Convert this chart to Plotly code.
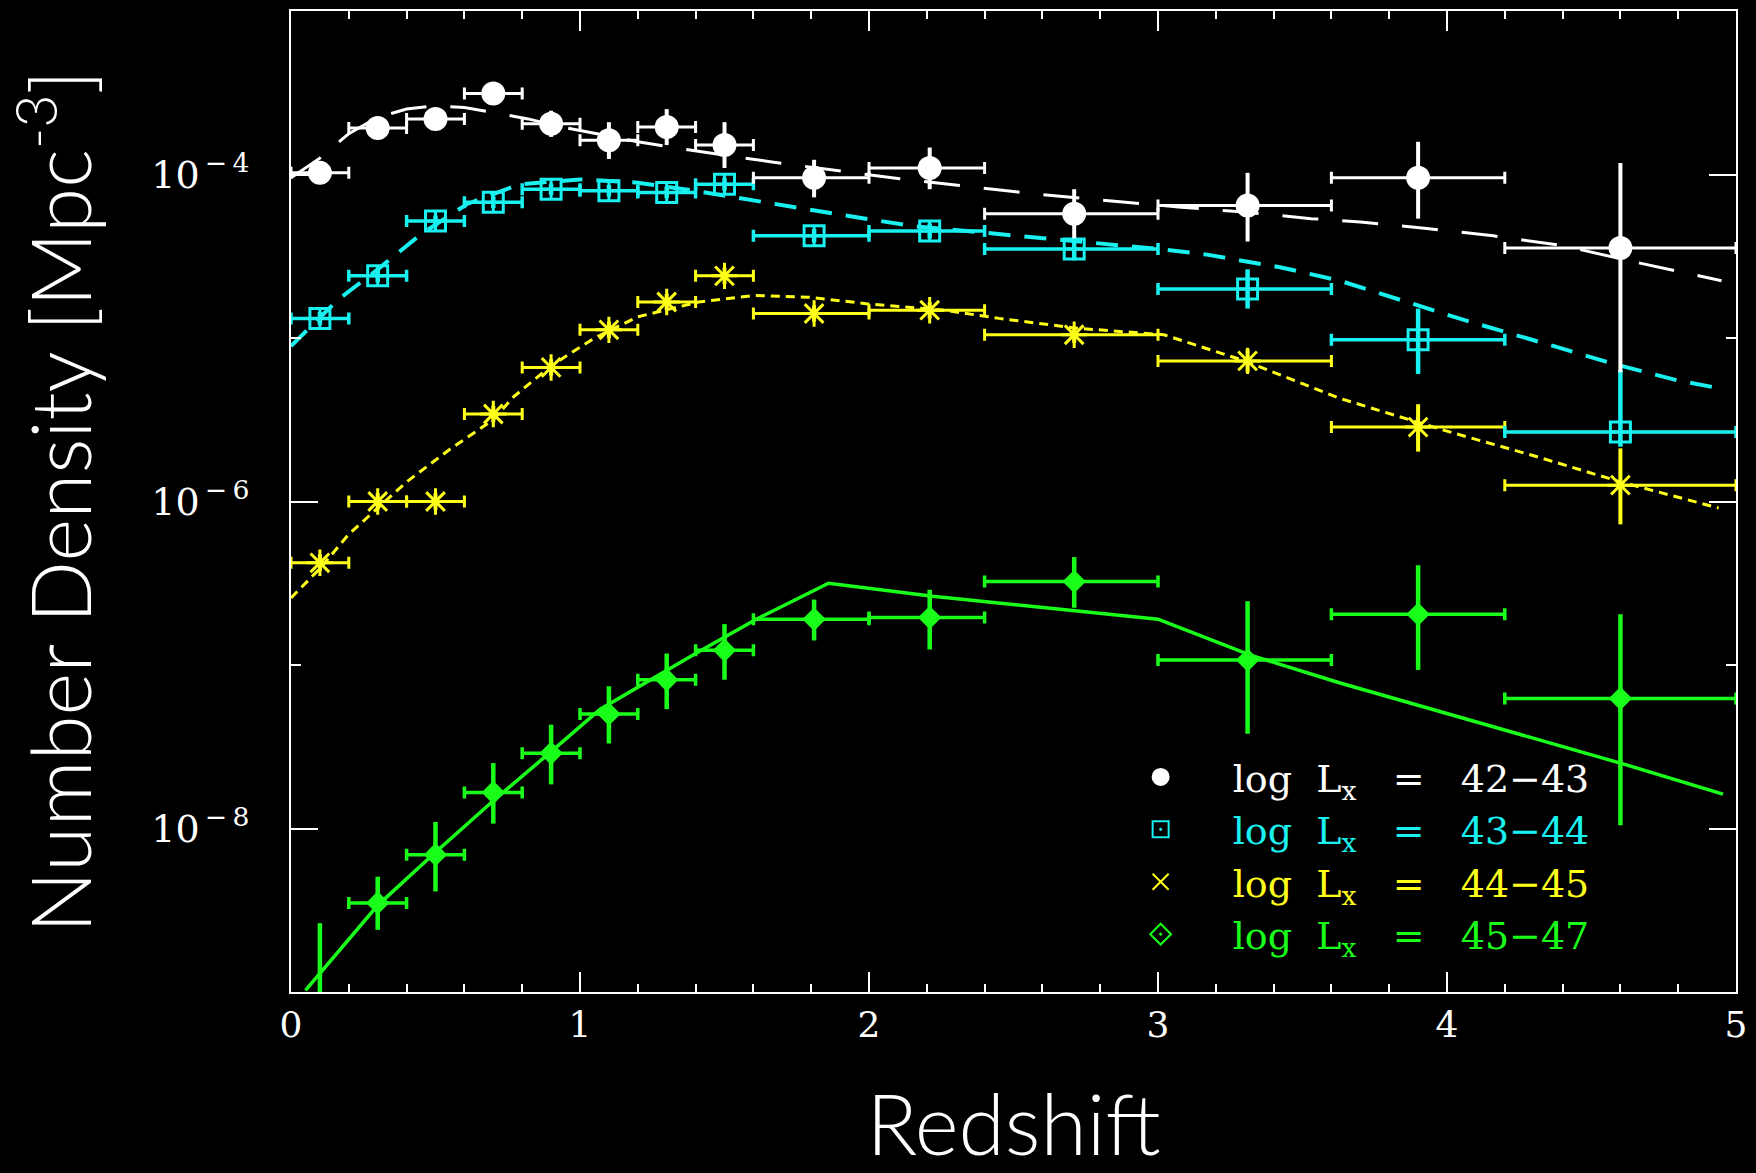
import numpy as np
import plotly.graph_objects as go

# ---------------- data ----------------
z_pts = [0.1, 0.3, 0.5, 0.7, 0.9, 1.1, 1.3, 1.5, 1.81, 2.21, 2.71, 3.31, 3.9, 4.6]
z_bin_lo = [0.0, 0.2, 0.4, 0.6, 0.8, 1.0, 1.2, 1.4, 1.6, 2.0, 2.4, 3.0, 3.6, 4.2]
z_bin_hi = [0.2, 0.4, 0.6, 0.8, 1.0, 1.2, 1.4, 1.6, 2.0, 2.4, 3.0, 3.6, 4.2, 5.0]

# log10 number density and errors in dex
white_logy = [-3.99, -3.715, -3.66, -3.505, -3.69, -3.79, -3.71, -3.82, -4.02, -3.96, -4.24, -4.19, -4.02, -4.45]
white_up = [0.05, 0.06, 0.065, 0.06, 0.08, 0.11, 0.11, 0.14, 0.11, 0.125, 0.15, 0.20, 0.22, 0.52]
white_dn = [0.05, 0.06, 0.065, 0.06, 0.08, 0.115, 0.11, 0.14, 0.12, 0.13, 0.15, 0.22, 0.25, 0.76]

cyan_logy = [-4.88, -4.62, -4.285, -4.17, -4.09, -4.10, -4.11, -4.06, -4.375, -4.345, -4.455, -4.70, -5.01, -5.575]
cyan_up = [0.04, 0.04, 0.035, 0.035, 0.035, 0.035, 0.035, 0.04, 0.04, 0.045, 0.07, 0.12, 0.19, 0.38]
cyan_dn = [0.04, 0.04, 0.035, 0.035, 0.035, 0.035, 0.035, 0.04, 0.04, 0.045, 0.07, 0.12, 0.21, 0.09]

yellow_logy = [-6.375, -6.0, -6.0, -5.465, -5.18, -4.95, -4.78, -4.62, -4.85, -4.83, -4.98, -5.14, -5.545, -5.90]
yellow_up = [0.05, 0.05, 0.05, 0.05, 0.05, 0.05, 0.05, 0.05, 0.05, 0.05, 0.05, 0.07, 0.14, 0.225]
yellow_dn = [0.05, 0.05, 0.05, 0.05, 0.05, 0.05, 0.05, 0.05, 0.05, 0.05, 0.05, 0.07, 0.15, 0.24]

green_logy = [-9.1, -8.455, -8.16, -7.78, -7.54, -7.30, -7.09, -6.91, -6.72, -6.71, -6.49, -6.97, -6.69, -7.205]
green_up = [0.52, 0.16, 0.20, 0.18, 0.175, 0.17, 0.16, 0.16, 0.12, 0.17, 0.15, 0.36, 0.30, 0.515]
green_dn = [0.50, 0.165, 0.225, 0.19, 0.19, 0.18, 0.18, 0.18, 0.13, 0.195, 0.16, 0.45, 0.34, 0.775]

# model curves (z, log10 density)
white_model_z = [0, 0.1, 0.2, 0.3, 0.4, 0.5, 0.6, 0.7, 0.82, 0.94, 1.2, 1.38, 1.67, 2.1, 2.58, 2.83, 3.08,
                 3.3, 3.53, 3.7, 3.93, 4.16, 4.4, 4.65, 4.95]
white_model_logy = [-4.02, -3.90, -3.75, -3.65, -3.60, -3.58, -3.59, -3.62, -3.66, -3.71, -3.80, -3.85, -3.925,
                    -4.025, -4.12, -4.16, -4.20, -4.23, -4.27, -4.29, -4.33, -4.375, -4.435, -4.535, -4.65]

cyan_model_z = [0, 0.16, 0.3, 0.45, 0.61, 0.79, 1.0, 1.2, 1.4, 1.63, 1.88, 2.15, 2.33, 2.58, 2.85, 3.0, 3.17,
                3.43, 3.63, 3.83, 4.05, 4.37, 4.58, 4.8, 4.95]
cyan_model_logy = [-5.05, -4.77, -4.58, -4.365, -4.18, -4.06, -4.03, -4.05, -4.10, -4.17, -4.24, -4.315, -4.345,
                   -4.39, -4.435, -4.455, -4.49, -4.57, -4.65, -4.76, -4.885, -5.05, -5.16, -5.26, -5.31]

yellow_model_z = [0, 0.1, 0.2, 0.3, 0.4, 0.55, 0.7, 0.77, 0.9, 1.05, 1.2, 1.41, 1.6, 1.79, 1.99, 2.26, 2.45,
                  2.72, 3.02, 3.3, 3.63, 4.0, 4.3, 4.6, 4.94]
yellow_model_logy = [-6.59, -6.41, -6.20, -6.04, -5.88, -5.68, -5.50, -5.36, -5.17, -5.00, -4.87, -4.78, -4.74,
                     -4.75, -4.79, -4.83, -4.88, -4.94, -4.98, -5.14, -5.37, -5.57, -5.72, -5.88, -6.04]

green_model_z = [0.05, 0.3, 0.5, 0.7, 0.9, 1.07, 1.4, 1.61, 1.86, 2.22, 3.0, 3.32, 3.63, 4.3, 4.6, 4.955]
green_model_logy = [-8.99, -8.47, -8.145, -7.83, -7.53, -7.27, -6.93, -6.72, -6.50, -6.58, -6.72, -6.94, -7.11,
                    -7.45, -7.60, -7.79]

legend_labels = ["42\u221243", "43\u221244", "44\u221245", "45\u221247"]
x_tick_vals = [0, 1, 2, 3, 4, 5]
y_tick_exps = [-8, -6, -4]
y_minor_exps = [-9, -7, -5, -3]

# ---------------- styles ----------------
WHITE = "#ffffff"
CYAN = "#19f0f0"
YELLOW = "#ffff1a"
GREEN = "#1aff1a"
SERIF = "DejaVu Serif"
SANS = "Lato"

fig = go.Figure()


def add_series(logy, up, dn, color, symbol, msize, mline, model_z, model_logy, dash, lwidth, ebw):
    ly = np.array(logy)
    y = 10 ** ly
    e_up = 10 ** (ly + np.array(up)) - y
    e_dn = y - 10 ** (ly - np.array(dn))
    zp = np.array(z_pts)
    fig.add_trace(go.Scatter(
        x=model_z, y=10 ** np.array(model_logy), mode="lines",
        line=dict(color=color, width=lwidth, dash=dash), showlegend=False, hoverinfo="skip"))
    fig.add_trace(go.Scatter(
        x=zp, y=y, mode="markers", showlegend=False,
        marker=dict(symbol=symbol, size=msize, color=color, line=dict(color=color, width=mline)),
        error_x=dict(type="data", symmetric=False, array=np.array(z_bin_hi) - zp,
                     arrayminus=zp - np.array(z_bin_lo), color=color, thickness=ebw, width=6),
        error_y=dict(type="data", symmetric=False, array=e_up, arrayminus=e_dn,
                     color=color, thickness=ebw + 1, width=0),
    ))


add_series(green_logy, green_up, green_dn, GREEN, "diamond", 18, 0, green_model_z, green_model_logy,
           "solid", 3.5, 3.5)
add_series(yellow_logy, yellow_up, yellow_dn, YELLOW, "asterisk-open", 22, 3, yellow_model_z, yellow_model_logy,
           "9px,6px", 3, 3)
add_series(cyan_logy, cyan_up, cyan_dn, CYAN, "square-cross-open", 20, 3, cyan_model_z, cyan_model_logy,
           "22px,14px", 4, 3.5)
add_series(white_logy, white_up, white_dn, WHITE, "circle", 24, 0, white_model_z, white_model_logy,
           "36px,24px", 3, 3)

# legend entries
leg_colors = [WHITE, CYAN, YELLOW, GREEN]
leg_symbols = ["circle", "square-open-dot", "x-thin-open", "diamond-open-dot"]
for lab, col, sym in zip(legend_labels, leg_colors, leg_symbols):
    name = ("<span style='color:%s'>log\u00a0\u00a0L<sub>x</sub>\u00a0\u00a0\u00a0=\u00a0\u00a0\u00a0%s</span>"
            % (col, lab))
    fig.add_trace(go.Scatter(
        x=[None], y=[None], mode="markers", name=name,
        marker=dict(symbol=sym, size=16, color=col, line=dict(color=col, width=2))))

fig.update_layout(
    width=1756, height=1173,
    paper_bgcolor="black", plot_bgcolor="black",
    margin=dict(l=291, r=17, t=9, b=176),
    showlegend=True,
    legend=dict(x=0.552, y=0.251, xanchor="left", yanchor="top", bgcolor="rgba(0,0,0,0)",
                font=dict(family=SERIF, size=38, color=WHITE), itemwidth=134, tracegroupgap=0),
    xaxis=dict(
        range=[0, 5], tickmode="array", tickvals=x_tick_vals, ticktext=[str(v) for v in x_tick_vals],
        ticks="inside", ticklen=20, tickwidth=2, tickcolor=WHITE,
        minor=dict(dtick=0.2, ticks="inside", ticklen=8, tickwidth=2, tickcolor=WHITE),
        showline=True, linecolor=WHITE, linewidth=2, mirror="allticks",
        showgrid=False, zeroline=False,
        tickfont=dict(family=SERIF, size=36, color=WHITE), ticklabelstandoff=0,
        title=dict(text="\u00a0\u00a0\u00a0Redshift", font=dict(family=SANS, size=84, color=WHITE, weight=300),
                   standoff=60),
    ),
    yaxis=dict(
        type="log", range=[-9, -3], tickmode="array",
        tickvals=[10.0 ** e for e in y_tick_exps],
        ticktext=["10<sup>\u2009\u2212\u2009%d</sup>" % (-e) for e in y_tick_exps],
        ticks="inside", ticklen=27, tickwidth=2, tickcolor=WHITE,
        minor=dict(tickvals=[10.0 ** e for e in y_minor_exps], ticks="inside", ticklen=10, tickwidth=2,
                   tickcolor=WHITE),
        showline=True, linecolor=WHITE, linewidth=2, mirror="allticks",
        showgrid=False, zeroline=False,
        tickfont=dict(family=SERIF, size=38, color=WHITE), ticklabelstandoff=32,
        title=dict(text="Number Density [Mpc<sup>-3</sup>]", font=dict(family=SANS, size=82, color=WHITE, weight=300),
                   standoff=52),
    ),
)

fig.write_html("out.html", config={"displayModeBar": False},
               post_script="document.body.style.margin='0';document.body.style.background='black';")
